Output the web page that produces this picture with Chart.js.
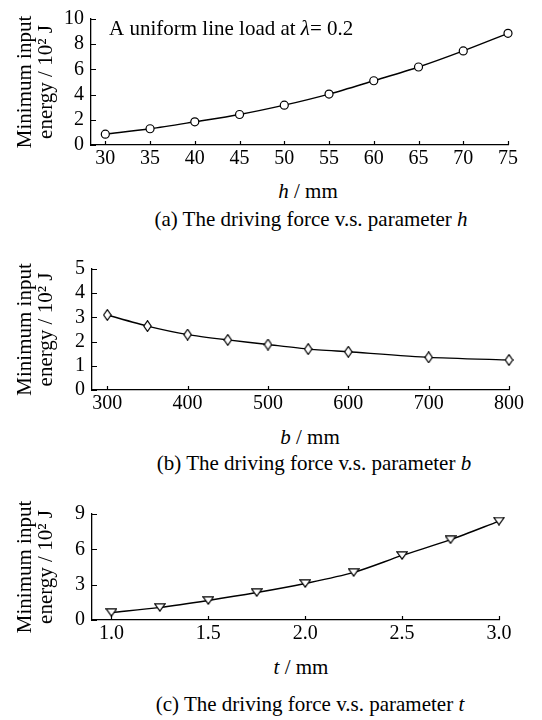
<!DOCTYPE html>
<html lang="en">
<head>
<meta charset="UTF-8">
<title>Minimum input energy vs. parameters</title>
<script src="https://cdn.jsdelivr.net/npm/chart.js@4.4.1/dist/chart.umd.min.js"></script>
<style>
  body { margin: 0; background: #fff; width: 542px; height: 720px; position: relative; overflow: hidden;
         font-family: "Liberation Serif", serif; color: #000; }
  canvas { position: absolute; left: 0; }
  .lbl { position: absolute; width: 400px; text-align: center; font-size: 21px; line-height: 24px; white-space: nowrap; }
</style>
</head>
<body>
<canvas id="chartA" width="542" height="175" style="top:0"></canvas>
<canvas id="chartB" width="542" height="170" style="top:250px"></canvas>
<canvas id="chartC" width="542" height="155" style="top:495px"></canvas>

<div class="lbl" style="left:108px; top:179px"><i>h</i> / mm</div>
<div class="lbl" style="left:111px; top:207px">(a) The driving force v.s. parameter <i>h</i></div>
<div class="lbl" style="left:110px; top:425px"><i>b</i> / mm</div>
<div class="lbl" style="left:114px; top:451px">(b) The driving force v.s. parameter <i>b</i></div>
<div class="lbl" style="left:101px; top:655px"><i>t</i> / mm</div>
<div class="lbl" style="left:110px; top:692px">(c) The driving force v.s. parameter <i>t</i></div>

<script>
// (a) parameter h
const hValues = [30, 35, 40, 45, 50, 55, 60, 65, 70, 75];
const energyByH = [0.86, 1.29, 1.84, 2.42, 3.16, 4.04, 5.10, 6.19, 7.47, 8.86];
const hTicks = [30, 35, 40, 45, 50, 55, 60, 65, 70, 75];
const hEnergyTicks = [0, 2, 4, 6, 8, 10];

// (b) parameter b
const bValues = [300, 350, 400, 450, 500, 550, 600, 700, 800];
const energyByB = [3.10, 2.64, 2.29, 2.07, 1.88, 1.69, 1.58, 1.35, 1.24];
const bTicks = [300, 400, 500, 600, 700, 800];
const bEnergyTicks = [0, 1, 2, 3, 4, 5];

// (c) parameter t
const tValues = [1.0, 1.25, 1.5, 1.75, 2.0, 2.25, 2.5, 2.75, 3.0];
const energyByT = [0.64, 1.07, 1.66, 2.33, 3.10, 4.04, 5.48, 6.82, 8.40];
const tTicks = [1.0, 1.5, 2.0, 2.5, 3.0];
const tEnergyTicks = [0, 3, 6, 9];

const yTitle = ['Minimum input', 'energy / 10\u00B2 J'];
const serifFamily = '"Liberation Serif", "Times New Roman", serif';

Chart.defaults.font.family = serifFamily;
Chart.defaults.color = '#000';

// small marker glyphs
function markerGlyph(w, h, path) {
    const c = document.createElement('canvas');
    c.width = w; c.height = h;
    const g = c.getContext('2d');
    g.fillStyle = '#fff';
    g.strokeStyle = '#000';
    g.lineWidth = 1.2;
    g.beginPath();
    path(g);
    g.closePath();
    g.fill();
    g.stroke();
    return c;
}
const diamond = markerGlyph(9, 12, g => { g.moveTo(4.5, 0.7); g.lineTo(8.2, 6); g.lineTo(4.5, 11.3); g.lineTo(0.8, 6); });
const triDown = markerGlyph(12, 9, g => { g.moveTo(0.7, 0.8); g.lineTo(11.3, 0.8); g.lineTo(6, 8.2); });

// tick marks pointing into the plot
const inwardTicks = {
    id: 'inwardTicks',
    afterDraw(chart) {
        const {ctx, chartArea: a, scales: {x, y}} = chart;
        ctx.save();
        ctx.strokeStyle = '#000';
        ctx.lineWidth = 1.2;
        ctx.beginPath();
        x.ticks.forEach(t => {
            const px = Math.round(x.getPixelForValue(t.value)) + 0.5;
            ctx.moveTo(px, a.bottom);
            ctx.lineTo(px, a.bottom - 4);
        });
        y.ticks.forEach(t => {
            const py = Math.round(y.getPixelForValue(t.value)) + 0.5;
            ctx.moveTo(a.left, py);
            ctx.lineTo(a.left + 5, py);
        });
        ctx.stroke();
        ctx.restore();
    }
};

// "A uniform line load at λ= 0.2"
const loadNote = {
    id: 'loadNote',
    afterDraw(chart) {
        const {ctx, chartArea: a} = chart;
        const parts = [['A uniform line load at ', ''], ['\u03BB', 'italic '], ['= 0.2', '']];
        let x = a.left + 18;
        const y = a.top + 10;
        ctx.save();
        ctx.fillStyle = '#000';
        ctx.textBaseline = 'middle';
        parts.forEach(([txt, style]) => {
            ctx.font = style + '21px ' + serifFamily;
            ctx.fillText(txt, x, y);
            x += ctx.measureText(txt).width;
        });
        ctx.restore();
    }
};

function makeChart(id, xs, ys, xTicks, yTicks, opts) {
    return new Chart(document.getElementById(id), {
        type: 'line',
        data: {
            datasets: [{
                data: xs.map((v, i) => ({x: v, y: ys[i]})),
                borderColor: '#000',
                borderWidth: 1.4,
                tension: opts.tension,
                clip: false,
                pointStyle: opts.pointStyle,
                pointRadius: 4,
                pointBorderWidth: 1.2,
                pointBackgroundColor: '#fff',
                pointBorderColor: '#000'
            }]
        },
        options: {
            responsive: false,
            animation: false,
            layout: {padding: {left: 0, top: opts.top, right: opts.right, bottom: 0}},
            plugins: {legend: {display: false}, tooltip: {enabled: false}},
            scales: {
                x: {
                    type: 'linear',
                    min: opts.xMin,
                    max: opts.xMax,
                    afterBuildTicks: s => { s.ticks = xTicks.map(v => ({value: v})); },
                    afterFit: s => { s.height = 30; },
                    grid: {display: false, drawTicks: false},
                    border: {display: true, color: '#000', width: 1.3},
                    ticks: {
                        color: '#000',
                        padding: 2,
                        maxRotation: 0,
                        autoSkip: false,
                        font: {family: serifFamily, size: 20},
                        callback: opts.xFormat || (v => String(v))
                    }
                },
                y: {
                    min: 0,
                    max: yTicks[yTicks.length - 1],
                    afterBuildTicks: s => { s.ticks = yTicks.map(v => ({value: v})); },
                    afterFit: s => { s.width = opts.left; },
                    grid: {display: false, drawTicks: false},
                    border: {display: true, color: '#000', width: 1.3},
                    ticks: {
                        color: '#000',
                        padding: 7,
                        autoSkip: false,
                        font: {family: serifFamily, size: 20},
                        callback: v => String(v)
                    },
                    title: {
                        display: true,
                        text: yTitle,
                        color: '#000',
                        padding: {top: 15, bottom: 0},
                        font: {family: serifFamily, size: 21, lineHeight: 1.0}
                    }
                }
            }
        },
        plugins: opts.plugins
    });
}

const charts = [
    makeChart('chartA', hValues, energyByH, hTicks, hEnergyTicks, {
        xMin: 28.4, xMax: 75, top: 13, right: 34, left: 91,
        tension: 0.3, pointStyle: 'circle', plugins: [inwardTicks, loadNote]
    }),
    makeChart('chartB', bValues, energyByB, bTicks, bEnergyTicks, {
        xMin: 281, xMax: 800, top: 13, right: 33, left: 92,
        tension: 0.2, pointStyle: diamond, plugins: [inwardTicks]
    }),
    makeChart('chartC', tValues, energyByT, tTicks, tEnergyTicks, {
        xMin: 0.9, xMax: 3.0, top: 12, right: 43, left: 92,
        tension: 0.3, pointStyle: triDown, plugins: [inwardTicks],
        xFormat: v => Number(v).toFixed(1)
    })
];

// redraw once the serif faces are surely available to the canvases
if (document.fonts && document.fonts.load) {
    Promise.all([
        document.fonts.load('20px "Liberation Serif"'),
        document.fonts.load('21px "Liberation Serif"'),
        document.fonts.load('italic 21px "Liberation Serif"')
    ]).then(() => charts.forEach(c => c.update('none'))).catch(() => {});
}
</script>
</body>
</html>
